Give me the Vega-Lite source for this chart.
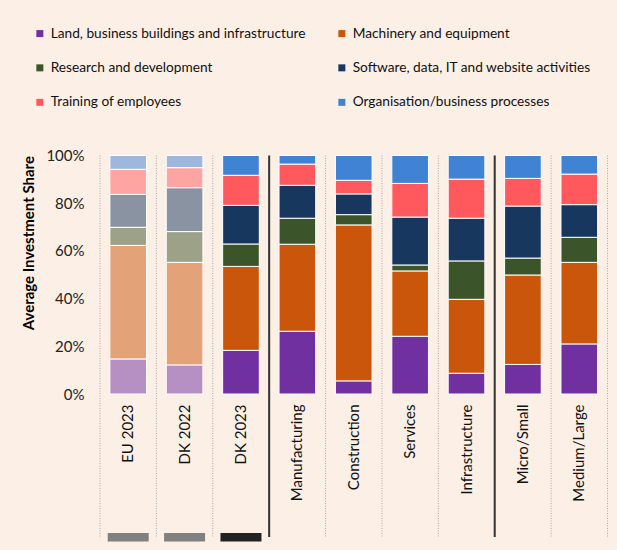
{
  "$schema": "https://vega.github.io/schema/vega-lite/v6.json",
  "width": 507.5,
  "height": 238.5,
  "autosize": {"type": "none"},
  "padding": {"left": 100, "top": 155.5, "right": 9.5, "bottom": 156},
  "background": "#FCEFE6",
  "config": {
    "view": {"stroke": null},
    "font": "Lato",
    "axisY": {"domain": false, "ticks": false, "grid": false, "labelFontSize": 15, "labelPadding": 16, "labelColor": "#222222", "titleFontSize": 15, "titleFontWeight": "bold", "titleColor": "#000000", "titleAnchor": "end", "titlePadding": 9},
    "axisX": {"domain": false, "ticks": false, "grid": false, "labelAngle": -90, "labelFontSize": 15, "labelPadding": 10, "labelColor": "#111111"},
    "legend": {"orient": "none", "direction": "horizontal", "legendX": -67, "legendY": -129, "columns": 2, "symbolType": "square", "symbolSize": 49, "symbolStrokeWidth": 0, "labelOffset": 4, "labelFontSize": 13.7, "labelColor": "#111111", "rowPadding": 19.5, "columnPadding": 29, "labelLimit": 400}
  },
  "datasets": {
    "shares": [
      {"cat": "EU 2023", "item": "Land, business buildings and infrastructure", "share": 0.147},
      {"cat": "EU 2023", "item": "Machinery and equipment", "share": 0.476},
      {"cat": "EU 2023", "item": "Research and development", "share": 0.076},
      {"cat": "EU 2023", "item": "Software, data, IT and website activities", "share": 0.138},
      {"cat": "EU 2023", "item": "Training of employees", "share": 0.105},
      {"cat": "EU 2023", "item": "Organisation/business processes", "share": 0.058},
      {"cat": "DK 2022", "item": "Land, business buildings and infrastructure", "share": 0.122},
      {"cat": "DK 2022", "item": "Machinery and equipment", "share": 0.430},
      {"cat": "DK 2022", "item": "Research and development", "share": 0.129},
      {"cat": "DK 2022", "item": "Software, data, IT and website activities", "share": 0.184},
      {"cat": "DK 2022", "item": "Training of employees", "share": 0.084},
      {"cat": "DK 2022", "item": "Organisation/business processes", "share": 0.051},
      {"cat": "DK 2023", "item": "Land, business buildings and infrastructure", "share": 0.183},
      {"cat": "DK 2023", "item": "Machinery and equipment", "share": 0.352},
      {"cat": "DK 2023", "item": "Research and development", "share": 0.094},
      {"cat": "DK 2023", "item": "Software, data, IT and website activities", "share": 0.162},
      {"cat": "DK 2023", "item": "Training of employees", "share": 0.126},
      {"cat": "DK 2023", "item": "Organisation/business processes", "share": 0.083},
      {"cat": "Manufacturing", "item": "Land, business buildings and infrastructure", "share": 0.263},
      {"cat": "Manufacturing", "item": "Machinery and equipment", "share": 0.365},
      {"cat": "Manufacturing", "item": "Research and development", "share": 0.109},
      {"cat": "Manufacturing", "item": "Software, data, IT and website activities", "share": 0.138},
      {"cat": "Manufacturing", "item": "Training of employees", "share": 0.089},
      {"cat": "Manufacturing", "item": "Organisation/business processes", "share": 0.036},
      {"cat": "Construction", "item": "Land, business buildings and infrastructure", "share": 0.055},
      {"cat": "Construction", "item": "Machinery and equipment", "share": 0.654},
      {"cat": "Construction", "item": "Research and development", "share": 0.043},
      {"cat": "Construction", "item": "Software, data, IT and website activities", "share": 0.087},
      {"cat": "Construction", "item": "Training of employees", "share": 0.057},
      {"cat": "Construction", "item": "Organisation/business processes", "share": 0.104},
      {"cat": "Services", "item": "Land, business buildings and infrastructure", "share": 0.242},
      {"cat": "Services", "item": "Machinery and equipment", "share": 0.274},
      {"cat": "Services", "item": "Research and development", "share": 0.025},
      {"cat": "Services", "item": "Software, data, IT and website activities", "share": 0.201},
      {"cat": "Services", "item": "Training of employees", "share": 0.141},
      {"cat": "Services", "item": "Organisation/business processes", "share": 0.117},
      {"cat": "Infrastructure", "item": "Land, business buildings and infrastructure", "share": 0.087},
      {"cat": "Infrastructure", "item": "Machinery and equipment", "share": 0.310},
      {"cat": "Infrastructure", "item": "Research and development", "share": 0.161},
      {"cat": "Infrastructure", "item": "Software, data, IT and website activities", "share": 0.179},
      {"cat": "Infrastructure", "item": "Training of employees", "share": 0.164},
      {"cat": "Infrastructure", "item": "Organisation/business processes", "share": 0.099},
      {"cat": "Micro/Small", "item": "Land, business buildings and infrastructure", "share": 0.124},
      {"cat": "Micro/Small", "item": "Machinery and equipment", "share": 0.375},
      {"cat": "Micro/Small", "item": "Research and development", "share": 0.071},
      {"cat": "Micro/Small", "item": "Software, data, IT and website activities", "share": 0.218},
      {"cat": "Micro/Small", "item": "Training of employees", "share": 0.116},
      {"cat": "Micro/Small", "item": "Organisation/business processes", "share": 0.096},
      {"cat": "Medium/Large", "item": "Land, business buildings and infrastructure", "share": 0.210},
      {"cat": "Medium/Large", "item": "Machinery and equipment", "share": 0.342},
      {"cat": "Medium/Large", "item": "Research and development", "share": 0.105},
      {"cat": "Medium/Large", "item": "Software, data, IT and website activities", "share": 0.137},
      {"cat": "Medium/Large", "item": "Training of employees", "share": 0.128},
      {"cat": "Medium/Large", "item": "Organisation/business processes", "share": 0.078}
    ],
    "cats": [
      {"cat": "EU 2023", "group": "Overall"},
      {"cat": "DK 2022", "group": "Overall"},
      {"cat": "DK 2023", "group": "Overall"},
      {"cat": "Manufacturing", "group": "Sector"},
      {"cat": "Construction", "group": "Sector"},
      {"cat": "Services", "group": "Sector"},
      {"cat": "Infrastructure", "group": "Sector"},
      {"cat": "Micro/Small", "group": "Size"},
      {"cat": "Medium/Large", "group": "Size"}
    ]
  },
  "layer": [
    {
      "data": {"name": "cats"},
      "transform": [{"filter": "datum.cat !== 'Manufacturing' && datum.cat !== 'Micro/Small'"}],
      "mark": {"type": "rule", "color": "#A8A8A8", "strokeWidth": 1, "strokeDash": [1, 1.5]},
      "encoding": {
        "x": {"field": "cat", "type": "nominal", "bandPosition": 0, "title": null, "sort": null},
        "y": {"datum": 1, "type": "quantitative", "scale": {"domain": [0, 1], "nice": false}, "title": "Average Investment Share"},
        "y2": {"datum": -0.6}
      }
    },
    {
      "data": {"name": "cats"},
      "transform": [{"filter": "datum.cat === 'Medium/Large'"}],
      "mark": {"type": "rule", "color": "#A8A8A8", "strokeWidth": 1, "strokeDash": [1, 1.5]},
      "encoding": {
        "x": {"field": "cat", "type": "nominal", "bandPosition": 1, "title": null, "sort": null},
        "y": {"datum": 1, "type": "quantitative", "scale": {"domain": [0, 1], "nice": false}, "title": "Average Investment Share"},
        "y2": {"datum": -0.6}
      }
    },
    {
      "data": {"name": "cats"},
      "transform": [{"filter": "datum.cat === 'Manufacturing' || datum.cat === 'Micro/Small'"}],
      "mark": {"type": "rule", "color": "#333333", "strokeWidth": 2},
      "encoding": {
        "x": {"field": "cat", "type": "nominal", "bandPosition": 0, "title": null, "sort": null},
        "y": {"datum": 1, "type": "quantitative", "scale": {"domain": [0, 1], "nice": false}, "title": "Average Investment Share"},
        "y2": {"datum": -0.6}
      }
    },
    {
      "data": {"name": "cats"},
      "transform": [{"filter": "datum.group === 'Overall'"}],
      "mark": {"type": "bar", "width": {"band": 0.727}},
      "encoding": {
        "x": {"field": "cat", "type": "nominal", "title": null, "sort": null},
        "y": {"datum": -0.583, "type": "quantitative", "scale": {"domain": [0, 1], "nice": false}, "title": "Average Investment Share"},
        "y2": {"datum": -0.618},
        "color": {"condition": {"test": "datum.cat === 'DK 2023'", "value": "#222222"}, "value": "#808080"}
      }
    },
    {
      "data": {"name": "shares"},
      "transform": [{"calculate": "indexof(['Land, business buildings and infrastructure','Machinery and equipment','Research and development','Software, data, IT and website activities','Training of employees','Organisation/business processes'], datum.item)", "as": "stackorder"}],
      "mark": {"type": "bar", "width": {"band": 0.65}, "stroke": "white", "strokeWidth": 1},
      "encoding": {
        "x": {"field": "cat", "type": "nominal", "title": null, "sort": null, "scale": {"domain": ["EU 2023", "DK 2022", "DK 2023", "Manufacturing", "Construction", "Services", "Infrastructure", "Micro/Small", "Medium/Large"], "paddingInner": 0, "paddingOuter": 0}},
        "y": {"field": "share", "type": "quantitative", "stack": "zero", "scale": {"domain": [0, 1], "nice": false}, "title": "Average Investment Share", "axis": {"format": ".0%", "values": [0, 0.2, 0.4, 0.6, 0.8, 1]}},
        "color": {
          "field": "item",
          "type": "nominal",
          "title": null,
          "scale": {
            "domain": ["Land, business buildings and infrastructure", "Machinery and equipment", "Research and development", "Software, data, IT and website activities", "Training of employees", "Organisation/business processes"],
            "range": ["#7030A0", "#C9560A", "#3B5429", "#17375E", "#FF595E", "#4082D3"]
          }
        },
        "order": {"field": "stackorder", "type": "quantitative", "sort": "ascending"},
        "fillOpacity": {"condition": {"test": "datum.cat === 'EU 2023' || datum.cat === 'DK 2022'", "value": 0.5}, "value": 1}
      }
    }
  ]
}
